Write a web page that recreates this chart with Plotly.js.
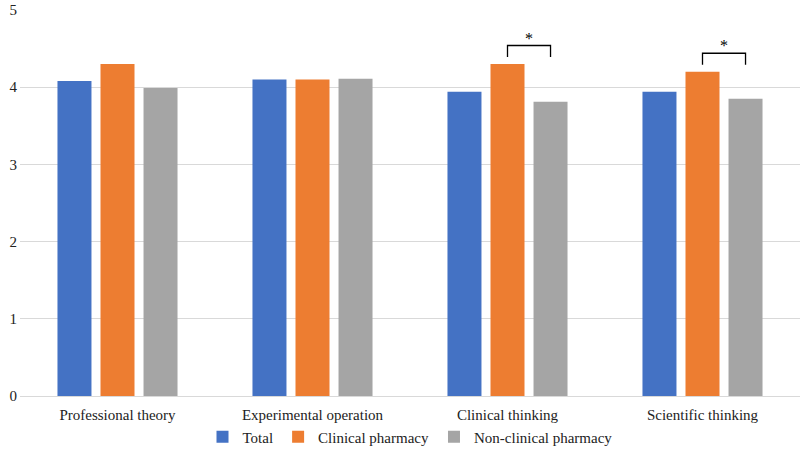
<!DOCTYPE html>
<html><head><meta charset="utf-8">
<script src="https://cdn.plot.ly/plotly-3.0.1.min.js"></script>
<style>html,body{margin:0;padding:0;background:#fff}</style>
</head><body><div id="chart" style="width:800px;height:454px"></div>
<script>
const categories = ["Professional theory", "Experimental operation", "Clinical thinking", "Scientific thinking"];
const totalVals = [4.08, 4.10, 3.94, 3.94];
const clinicalVals = [4.30, 4.10, 4.30, 4.20];
const nonClinicalVals = [3.99, 4.11, 3.81, 3.85];
const seriesNames = ["Total", "Clinical pharmacy", "Non-clinical pharmacy"];
const seriesColors = ["#4472C4", "#ED7D31", "#A5A5A5"];
const sigCategories = [2, 3]; // Clinical vs Non-clinical significant
const yTicks = [0, 1, 2, 3, 4, 5];

const font = "Liberation Serif";
const traces = [totalVals, clinicalVals, nonClinicalVals].map((v, i) => ({
  type: "bar", x: categories, y: v, name: seriesNames[i],
  marker: {color: seriesColors[i]}, hoverinfo: "skip"
}));

const bargap = 0.338, bargroupgap = 0.21;
const slot = (1 - bargap) / 3;
const shapes = [], annotations = [];
sigCategories.forEach(ci => {
  const x0 = ci, x1 = ci + slot;  // clinical bar center, non-clinical bar center
  const legB = clinicalVals[ci] + 0.09, yT = clinicalVals[ci] + 0.24;
  shapes.push({type: "path", xref: "x", yref: "y",
    path: `M ${x0} ${legB} L ${x0} ${yT} L ${x1} ${yT} L ${x1} ${legB}`,
    line: {color: "#000", width: 1.3}});
  annotations.push({x: ci + slot / 2, y: yT, xref: "x", yref: "y", text: "*",
    showarrow: false, yanchor: "bottom", yshift: -3,
    font: {family: font, size: 16, color: "#000"}});
});

const layout = {
  width: 800, height: 454,
  margin: {l: 20, r: 0, t: 9, b: 58},
  paper_bgcolor: "#fff", plot_bgcolor: "#fff",
  barmode: "group", bargap: bargap, bargroupgap: bargroupgap,
  font: {family: font, size: 15, color: "#222"},
  xaxis: {type: "category", showgrid: false, showline: false, zeroline: false,
    ticks: "", ticklabelstandoff: 8, tickfont: {family: font, size: 15, color: "#222"}},
  yaxis: {range: [0, 5.013], tickvals: yTicks, ticktext: yTicks.map(String),
    showgrid: true, gridcolor: "#D9D9D9", gridwidth: 1, zeroline: true,
    zerolinecolor: "#D9D9D9", zerolinewidth: 1, showline: false, ticks: "",
    ticklabeloverflow: "allow",
    ticklabelstandoff: 2, tickfont: {family: font, size: 15, color: "#222"}},
  showlegend: true,
  legend: {orientation: "h", x: 0.5, xanchor: "center", y: -0.106, yanchor: "middle",
    bgcolor: "rgba(0,0,0,0)",
    font: {family: font, size: 15, color: "#222"}, itemwidth: 30,
    traceorder: "normal"},
  shapes: shapes, annotations: annotations
};
Plotly.newPlot("chart", traces, layout, {staticPlot: true, displayModeBar: false});
</script></body></html>
